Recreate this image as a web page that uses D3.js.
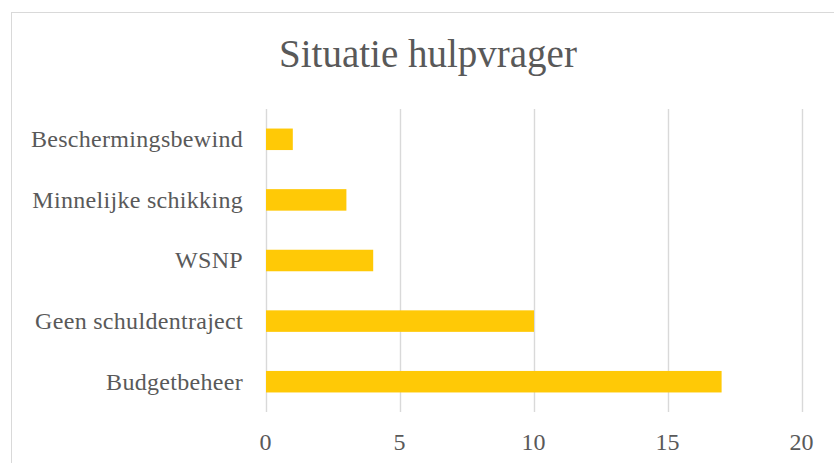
<!DOCTYPE html>
<meta charset="utf-8">
<style>
body { margin: 0; background: #fff; }
text { font-family: "Liberation Serif", "DejaVu Serif", serif; fill: #595959; }
</style>
<body>
<script src="https://d3js.org/d3.v7.min.js"></script>
<script>

const width = 834,
    height = 463

// data, top to bottom
var categories = ['Beschermingsbewind', 'Minnelijke schikking', 'WSNP', 'Geen schuldentraject', 'Budgetbeheer']
var values = [1, 3, 4, 10, 17]
var ticks = [0, 5, 10, 15, 20]
var title = 'Situatie hulpvrager'

var svg = d3.select('body')
    .append('svg')
    .attr('width', width)
    .attr('height', height)

// chart frame
svg.append('rect')
    .attr('x', 11.5).attr('y', 12.5)
    .attr('width', 840).attr('height', 470)
    .attr('fill', '#fff')
    .attr('stroke', '#d9d9d9')

var x = d3.scaleLinear()
    .domain([0, 20])
    .range([265.5, 801.5])

var y = d3.scaleBand()
    .domain(categories)
    .range([109, 412])
    .paddingInner(0.645)
    .paddingOuter(0.3225)

// gridlines
svg.selectAll('.grid')
    .data(ticks)
    .enter().append('line')
    .attr('class', 'grid')
    .attr('x1', d => Math.round(x(d)) + 0.5)
    .attr('x2', d => Math.round(x(d)) + 0.5)
    .attr('y1', 109).attr('y2', 412)
    .attr('stroke', '#d9d9d9')
    .attr('stroke-width', 1.4)

// bars
svg.selectAll('.bar')
    .data(categories)
    .enter().append('rect')
    .attr('class', 'bar')
    .attr('x', x(0) + 0.5)
    .attr('y', d => y(d))
    .attr('width', (d, i) => x(values[i]) - x(0))
    .attr('height', y.bandwidth())
    .attr('fill', '#ffc906')

// category labels
svg.selectAll('.cat')
    .data(categories)
    .enter().append('text')
    .attr('class', 'cat')
    .attr('x', 243)
    .attr('y', d => y(d) + y.bandwidth() / 2)
    .attr('dy', '0.33em')
    .attr('text-anchor', 'end')
    .style('font-size', '24px')
    .style('letter-spacing', '0.3px')
    .text(d => d)

// value axis labels
svg.selectAll('.tick-label')
    .data(ticks)
    .enter().append('text')
    .attr('class', 'tick-label')
    .attr('x', d => x(d))
    .attr('y', 450)
    .attr('text-anchor', 'middle')
    .style('font-size', '24px')
    .text(d => d)

svg.append('text')
    .attr('x', 428)
    .attr('y', 67)
    .attr('text-anchor', 'middle')
    .style('font-size', '39px')
    .text(title)

</script>
</body>
